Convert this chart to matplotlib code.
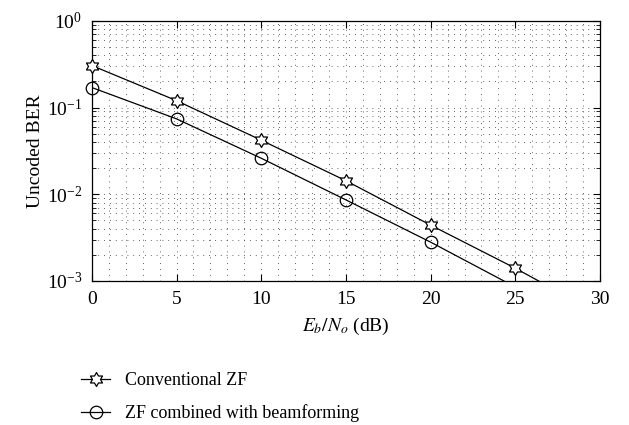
import numpy as np
import matplotlib
matplotlib.use('Agg')
import matplotlib.pyplot as plt
from matplotlib.path import Path
from matplotlib.lines import Line2D
from matplotlib.ticker import MultipleLocator, LogLocator, NullFormatter

plt.rcParams['font.family'] = ['Liberation Serif', 'DejaVu Serif']
plt.rcParams['mathtext.fontset'] = 'stix'

##------------data-----------------##
ebno = [0, 5, 10, 15, 20, 25, 30]
ber_conv = [0.305, 0.12, 0.042, 0.0143, 0.0044, 0.0014, 0.00041]
ber_beam = [0.17, 0.074, 0.026, 0.0086, 0.0028, 0.00085, 0.00027]

labels = ['Conventional ZF', 'ZF combined with beamforming']

##------------hexagram marker-----------------##
ang = np.pi/2 + np.arange(12)*np.pi/6
rad = np.where(np.arange(12) % 2 == 0, 1.0, 1/np.sqrt(3))
verts = np.column_stack([rad*np.cos(ang), rad*np.sin(ang)])
verts = np.vstack([verts, verts[0]])
hexagram = Path(verts, [Path.MOVETO] + [Path.LINETO]*11 + [Path.CLOSEPOLY])

ymin, ymax = 1e-3, 1

##------------figure-----------------##
fig = plt.figure(figsize=(6.29, 4.25), dpi=100)
ax = fig.add_axes([0.146, 0.339, 0.808, 0.612])

styles = [dict(marker=hexagram, markersize=10, markerfacecolor='white'),
          dict(marker='o', markersize=9, markerfacecolor='none')]
handles = []
for ber, st, lab in zip([ber_conv, ber_beam], styles, labels):
    ax.semilogy(ebno, ber, color='black', lw=0.9)
    # markers only where the point lies inside the y range, not clipped at the frame
    keep = [i for i, v in enumerate(ber) if v >= ymin]
    ax.plot([ebno[i] for i in keep], [ber[i] for i in keep], ls='none',
            color='black', markeredgewidth=0.9, clip_on=False, zorder=3, **st)
    handles.append(Line2D([], [], color='black', lw=0.9, markeredgewidth=0.9, **st))

ax.set_xlim(0, 30)
ax.set_ylim(ymin, ymax)
ax.xaxis.set_major_locator(MultipleLocator(5))
ax.xaxis.set_minor_locator(MultipleLocator(1))
ax.yaxis.set_major_locator(LogLocator(base=10, numticks=10))
ax.yaxis.set_minor_locator(LogLocator(base=10, subs=np.arange(2, 10), numticks=10))
ax.yaxis.set_minor_formatter(NullFormatter())

ax.grid(True, which='both', ls=(0, (1, 6)), color='#333333', lw=0.6)
ax.tick_params(which='both', direction='in', top=True, right=True, labelsize=14)
ax.tick_params(which='major', length=5, pad=7)
ax.tick_params(which='minor', length=3)
ax.tick_params(axis='x', which='minor', length=0)
for s in ax.spines.values():
    s.set_linewidth(0.9)

ax.set_xlabel(r'$E_b/N_o$ (dB)', fontsize=14, labelpad=6)
ax.set_ylabel('Uncoded BER', fontsize=14, labelpad=2)

fig.legend(handles, labels, loc='upper left', bbox_to_anchor=(0.118, 0.142),
           frameon=False, fontsize=13, handlelength=1.6, labelspacing=0.85,
           borderaxespad=0, handletextpad=0.8)

fig.savefig('out.png', dpi=100)
